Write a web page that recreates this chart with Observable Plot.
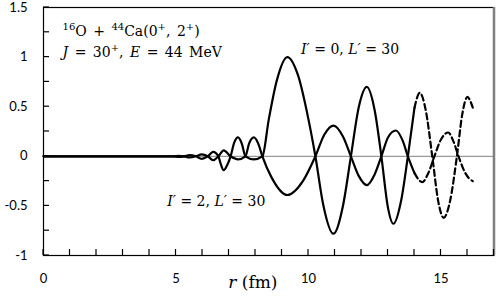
<!DOCTYPE html>
<html>
<head>
<meta charset="utf-8">
<script src="https://cdn.jsdelivr.net/npm/d3@7"></script>
<script src="https://cdn.jsdelivr.net/npm/@observablehq/plot@0.6"></script>
<style>
  body { margin: 0; background: #fff; }
</style>
</head>
<body>
<div id="chart"></div>
<script>
// ---- data ----
// Channel I'=0, L'=30
const rA = [0, 4.9, 5.1, 5.3, 5.52, 5.75, 5.97, 6.2, 6.4, 6.6, 6.68, 6.8, 6.93, 7.06, 7.2, 7.34, 7.48, 7.62, 7.94, 8.26, 8.5, 8.8, 9.2, 9.6, 10.0, 10.26, 10.55, 10.94, 11.3, 11.6, 11.9, 12.2, 12.5, 12.75, 13.0, 13.2, 13.5, 13.75, 14.0, 14.2, 14.42, 14.67, 14.9, 15.1, 15.35, 15.6, 15.8, 16.0, 16.1, 16.2];
const vA = [0, 0, -0.005, 0, 0.012, 0, -0.025, 0, 0.045, 0, -0.07, -0.14, -0.09, 0, 0.14, 0.19, 0.13, 0, -0.03, 0, 0.37, 0.76, 1.0, 0.82, 0.37, 0, -0.48, -0.78, -0.5, 0, 0.5, 0.7, 0.46, 0, -0.52, -0.68, -0.44, 0, 0.49, 0.64, 0.47, 0, -0.46, -0.62, -0.44, 0, 0.42, 0.6, 0.56, 0.49];
// Channel I'=2, L'=30
const rB = [0, 4.9, 5.1, 5.3, 5.52, 5.75, 5.97, 6.2, 6.4, 6.6, 6.8, 7.06, 7.34, 7.62, 7.76, 7.94, 8.1, 8.26, 8.6, 9.2, 9.8, 10.26, 10.6, 10.95, 11.3, 11.6, 11.9, 12.2, 12.5, 12.75, 13.0, 13.3, 13.55, 13.75, 14.0, 14.29, 14.52, 14.75, 15.0, 15.27, 15.47, 15.66, 15.9, 16.05, 16.2];
const vB = [0, 0, 0.005, 0, -0.012, 0, 0.02, 0, -0.04, 0, 0.06, 0, -0.03, 0, 0.13, 0.19, 0.13, 0, -0.21, -0.39, -0.245, 0, 0.22, 0.31, 0.2, 0, -0.2, -0.29, -0.18, 0, 0.19, 0.26, 0.16, 0, -0.17, -0.26, -0.17, 0, 0.17, 0.24, 0.15, 0, -0.16, -0.22, -0.25];
const dashFrom = 14.0; // curves drawn dashed beyond this radius

// axis ticks and labels
const xTickVals = [0, 1, 2, 3, 4, 5, 6, 7, 8, 9, 10, 11, 12, 13, 14, 15, 16, 17];
const xLabelVals = [0, 5, 10, 15];
const yTickVals = [-1, -0.75, -0.5, -0.25, 0, 0.25, 0.5, 0.75, 1, 1.25, 1.5];
const yLabelVals = [-1, -0.5, 0, 0.5, 1, 1.5];
const xDomain = [0, 17];
const yDomain = [-1, 1.5];

// annotations (markup: *italic*, ^superscript^)
const noteText = ["^16^O + ^44^Ca(0^+^, 2^+^)", "*J* = 30^+^, *E* = 44 MeV"];
const noteX = [0.72, 0.72];
const noteY = [1.258, 1.046];
const curveLabelText = ["*I′* = 0, *L′* = 30", "*I′* = 2, *L′* = 30"];
const curveLabelX = [11.57, 6.52];
const curveLabelY = [1.077, -0.456];
const axisTitleText = ["*r* (fm)"];
const axisTitleX = [7.9];
const axisTitleY = [-1.276];

// ---- build tables ----
const A = rA.map((r, i) => ({r, v: vA[i]}));
const B = rB.map((r, i) => ({r, v: vB[i]}));
const solid = d => d.r <= dashFrom;
const dashed = d => d.r >= dashFrom;
const plain = s => s.replace(/[\*\^]/g, "");
const idx = arr => arr.map((_, i) => i);

const fmtX = d => xLabelVals.includes(d) ? String(d) : "";
const fmtY = d => yLabelVals.includes(d) ? String(d) : "";

const lineOpts = {x: "r", y: "v", curve: "monotone-x", stroke: "black", strokeWidth: 2.2};
const tickLen = 6;   // px, ticks drawn inside the frame

const chart = Plot.plot({
  width: 498,
  height: 301,
  marginLeft: 43,
  marginRight: 4.5,
  marginTop: 7,
  marginBottom: 46,
  x: {domain: xDomain, label: null},
  y: {domain: yDomain, label: null},
  style: {fontFamily: "Lato", fontSize: "13px", color: "black", background: "white", overflow: "visible"},
  marks: [
    Plot.ruleY([0], {stroke: "#808080", strokeWidth: 1}),
    Plot.frame({stroke: "black", strokeWidth: 1.2}),
    Plot.ruleX([17], {stroke: "#7f7f7f", strokeWidth: 2.5}),
    Plot.axisY({ticks: yLabelVals, tickSize: 0, tickPadding: 16, tickFormat: fmtY, label: null, fontSize: 13}),
    Plot.axisX({ticks: xLabelVals, tickSize: 0, tickPadding: 18, tickFormat: fmtX, label: null, fontSize: 13}),
    Plot.line(A.filter(solid), lineOpts),
    Plot.line(A.filter(dashed), {...lineOpts, strokeDasharray: "6,3.5"}),
    Plot.line(B.filter(solid), lineOpts),
    Plot.line(B.filter(dashed), {...lineOpts, strokeDasharray: "6,3.5"}),
    Plot.text(idx(noteText), {x: i => noteX[i], y: i => noteY[i], text: i => plain(noteText[i]), textAnchor: "start", fontFamily: "DejaVu Serif", fontSize: 14, fill: "black"}),
    Plot.text(idx(curveLabelText), {x: i => curveLabelX[i], y: i => curveLabelY[i], text: i => plain(curveLabelText[i]), textAnchor: "middle", fontFamily: "DejaVu Serif", fontSize: 14, fill: "black"}),
    Plot.text(idx(axisTitleText), {x: i => axisTitleX[i], y: i => axisTitleY[i], text: i => plain(axisTitleText[i]), textAnchor: "middle", fontFamily: "DejaVu Serif", fontSize: 17, fill: "black"})
  ]
});

document.getElementById("chart").appendChild(chart);

// inward tick marks, positioned through Plot's own x / y scales
(function drawInwardTicks() {
  const sx = chart.scale("x"), sy = chart.scale("y");
  const X = v => sx.apply(v), Y = v => sy.apply(v);
  const x0 = X(xDomain[0]), y0 = Y(yDomain[0]);
  const g = d3.select(chart).append("g")
    .attr("stroke", "black").attr("stroke-width", 1.2).attr("fill", "none");
  g.selectAll("line.xt").data(xTickVals).join("line").attr("class", "xt")
    .attr("x1", d => X(d)).attr("x2", d => X(d))
    .attr("y1", y0).attr("y2", y0 - tickLen);
  g.selectAll("line.yt").data(yTickVals).join("line").attr("class", "yt")
    .attr("y1", d => Y(d)).attr("y2", d => Y(d))
    .attr("x1", x0).attr("x2", x0 + tickLen);
})();

// turn markup into styled tspans (italic / superscript)
function richify(sources, baseSize, wordSpacing) {
  const supSize = Math.round(baseSize * 0.7);
  const shift = Math.round(baseSize * 0.4);
  const texts = Array.from(chart.querySelectorAll("text"));
  for (const src of sources) {
    const target = plain(src);
    const node = texts.find(t => t.textContent === target);
    if (!node) continue;
    const el = d3.select(node);
    el.text(null);
    if (wordSpacing) el.style("word-spacing", wordSpacing + "px");
    const parts = src.split(/(\*[^*]+\*|\^[^^]+\^)/).filter(p => p.length);
    let raised = false;
    for (const p of parts) {
      const t = el.append("tspan");
      if (p.startsWith("^")) {
        t.text(p.slice(1, -1)).attr("font-size", supSize);
        if (!raised) { t.attr("dy", -shift); raised = true; }
      } else {
        if (raised) { t.attr("dy", shift); raised = false; }
        if (p.startsWith("*")) t.text(p.slice(1, -1)).attr("font-style", "italic");
        else t.text(p);
      }
    }
  }
}
richify(noteText, 14, 2);
richify(curveLabelText, 14, 0);
richify(axisTitleText, 17, 0);
</script>
</body>
</html>
